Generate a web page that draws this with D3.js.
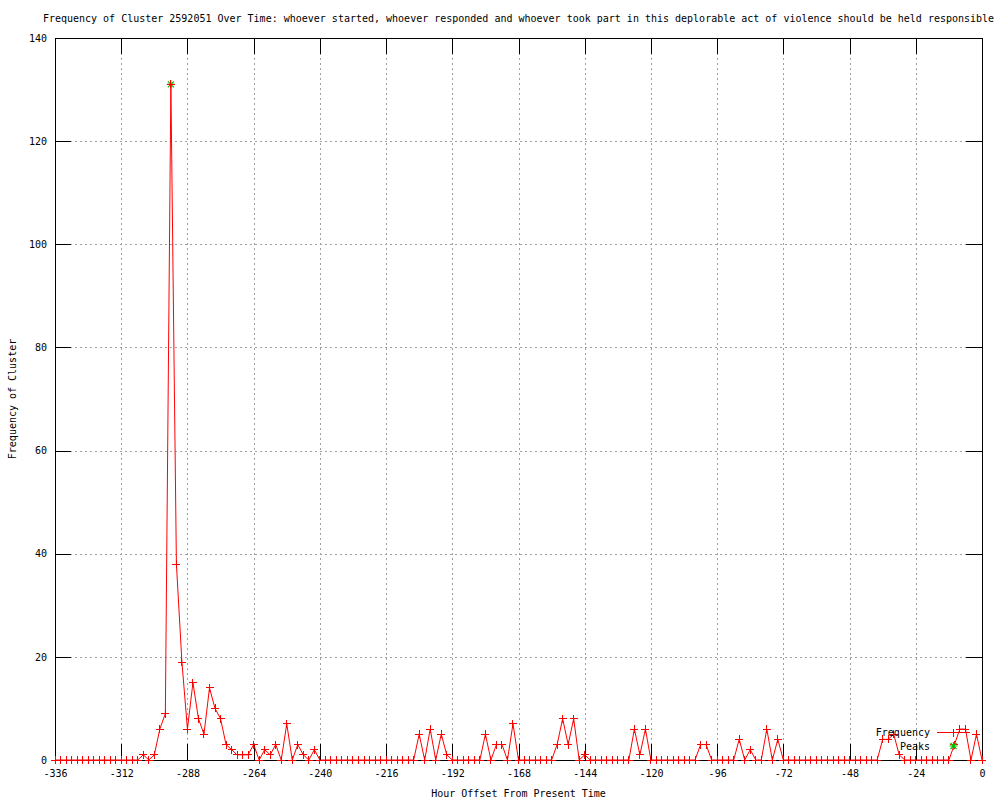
<!DOCTYPE html>
<html>
<head>
<meta charset="utf-8">
<script src="https://cdn.jsdelivr.net/npm/d3@7"></script>
<style>
  body { margin: 0; background: #fff; }
  text { font-family: "DejaVu Sans Mono", monospace; font-size: 10px; fill: #000; }
</style>
</head>
<body>
<div class="svg-container"></div>
<script>
// chart texts
const title = "Frequency of Cluster 2592051 Over Time: whoever started, whoever responded and whoever took part in this deplorable act of violence should be held responsible";
const xLabel = "Hour Offset From Present Time";
const yLabel = "Frequency of Cluster";

// hour offsets, one sample every 2 hours from -336 to 0
const hours = d3.range(-336, 1, 2);

// frequency per sample
const frequency = [
  0, 0, 0, 0, 0, 0, 0, 0, 0, 0, 0, 0, 0, 0, 0, 0,
  1, 0, 1, 6, 9, 131, 38, 19, 6, 15, 8, 5, 14, 10, 8, 3, 2, 1, 1, 1, 3, 0, 2, 1, 3, 0, 7, 0, 3, 1, 0, 2, 0,
  0, 0, 0, 0, 0, 0, 0, 0, 0, 0, 0, 0, 0, 0, 0, 0, 0,
  5, 0, 6, 0, 5, 1, 0,
  0, 0, 0, 0, 0,
  5, 0, 3, 3, 0, 7,
  0, 0, 0, 0, 0, 0, 0,
  3, 8, 3, 8, 0, 1, 0,
  0, 0, 0, 0, 0, 0, 0,
  6, 1, 6, 0,
  0, 0, 0, 0, 0, 0, 0, 0,
  3, 3, 0,
  0, 0, 0, 0,
  4, 0, 2, 0, 0, 6, 0, 4, 0,
  0, 0, 0, 0, 0, 0, 0, 0, 0, 0, 0, 0, 0, 0, 0, 0, 0,
  4, 4, 5, 1, 0,
  0, 0, 0, 0, 0, 0, 0, 0,
  3, 6, 6, 0, 5, 0
];

// detected peaks
const peakHours = [-294];
const peakValues = [131];

// tick values
const xTicks = [-336, -312, -288, -264, -240, -216, -192, -168, -144, -120, -96, -72, -48, -24, 0];
const yTicks = [0, 20, 40, 60, 80, 100, 120, 140];

const legendNames = ["Frequency", "Peaks"];

// establish margins
const margin = { top: 38, right: 18, bottom: 40, left: 55 };
const totalW = 1000;
const totalH = 800;
const width = totalW - margin.left - margin.right;
const height = totalH - margin.top - margin.bottom;

const data = hours.map((h, i) => ({ hour: h, value: frequency[i] }));
const peaks = peakHours.map((h, i) => ({ hour: h, value: peakValues[i] }));

const svg = d3
  .select(".svg-container")
  .append("svg")
  .attr("width", totalW)
  .attr("height", totalH);

const g = svg.append("g").attr("transform", `translate(${margin.left},${margin.top})`);

const xScale = d3.scaleLinear().domain([-336, 0]).range([0, width]);
const yScale = d3.scaleLinear().domain([0, 140]).range([height, 0]);

// grid lines
g.append("g")
  .attr("class", "grid")
  .attr("transform", `translate(0,${height})`)
  .call(d3.axisBottom(xScale).tickValues(xTicks).tickSize(-height).tickFormat(""));
g.append("g")
  .attr("class", "grid")
  .call(d3.axisLeft(yScale).tickValues(yTicks).tickSize(-width).tickFormat(""));
g.selectAll(".grid .domain").remove();
g.selectAll(".grid line")
  .attr("stroke", "#a0a0a0")
  .attr("stroke-dasharray", "2,3")
  .attr("shape-rendering", "crispEdges");

// axes with inward ticks on all four sides
const fmt = (d) => String(d);
g.append("g")
  .attr("class", "axis")
  .attr("transform", `translate(0,${height})`)
  .call(d3.axisBottom(xScale).tickValues(xTicks).tickSize(-16).tickPadding(10).tickFormat(fmt));
g.append("g")
  .attr("class", "axis")
  .call(d3.axisTop(xScale).tickValues(xTicks).tickSize(-16).tickFormat(""));
g.append("g")
  .attr("class", "axis")
  .call(d3.axisLeft(yScale).tickValues(yTicks).tickSize(-16).tickPadding(8).tickFormat(fmt));
g.append("g")
  .attr("class", "axis")
  .attr("transform", `translate(${width},0)`)
  .call(d3.axisRight(yScale).tickValues(yTicks).tickSize(-16).tickFormat(""));
g.selectAll(".axis .domain").remove();
g.selectAll(".axis line").attr("stroke", "#000").attr("shape-rendering", "crispEdges");
g.selectAll(".axis text")
  .attr("font-family", "DejaVu Sans Mono, monospace")
  .attr("font-size", 10)
  .attr("fill", "#000");

// border
g.append("rect")
  .attr("x", 0)
  .attr("y", 0)
  .attr("width", width)
  .attr("height", height)
  .attr("fill", "none")
  .attr("stroke", "#000")
  .attr("shape-rendering", "crispEdges");

// title and axis labels
svg.append("text")
  .attr("x", margin.left + width / 2)
  .attr("y", 22)
  .attr("text-anchor", "middle")
  .text(title);

svg.append("text")
  .attr("x", margin.left + width / 2)
  .attr("y", 797)
  .attr("text-anchor", "middle")
  .text(xLabel);

svg.append("text")
  .attr("transform", `translate(16,${margin.top + height / 2}) rotate(-90)`)
  .attr("text-anchor", "middle")
  .text(yLabel);

// marker shapes
const plus = "M-4,0H4M0,-4V4";
const star = "M-4,0H4M0,-4V4M-3,-3L3,3M-3,3L3,-3";

// peaks (drawn under the frequency line)
g.selectAll(".peak")
  .data(peaks)
  .enter()
  .append("path")
  .attr("class", "peak")
  .attr("d", star)
  .attr("transform", (d) => `translate(${xScale(d.hour)},${yScale(d.value)})`)
  .attr("stroke", "#00c000")
  .attr("stroke-width", 1.2)
  .attr("fill", "none");

// frequency line
const line = d3
  .line()
  .x((d) => xScale(d.hour))
  .y((d) => yScale(d.value));

g.append("path")
  .datum(data)
  .attr("fill", "none")
  .attr("stroke", "#ff0000")
  .attr("stroke-width", 1)
  .attr("d", line);

g.selectAll(".pt")
  .data(data)
  .enter()
  .append("path")
  .attr("class", "pt")
  .attr("d", plus)
  .attr("transform", (d) => `translate(${xScale(d.hour)},${yScale(d.value)})`)
  .attr("stroke", "#ff0000")
  .attr("fill", "none")
  .attr("shape-rendering", "crispEdges");

// legend
const legend = svg.append("g");
legend.append("text")
  .attr("x", 930)
  .attr("y", 732)
  .attr("dy", "0.35em")
  .attr("text-anchor", "end")
  .text(legendNames[0]);
legend.append("line")
  .attr("x1", 937)
  .attr("x2", 970)
  .attr("y1", 732.5)
  .attr("y2", 732.5)
  .attr("stroke", "#ff0000");
legend.append("path")
  .attr("d", plus)
  .attr("transform", "translate(953.5,732.5)")
  .attr("stroke", "#ff0000")
  .attr("shape-rendering", "crispEdges");
legend.append("text")
  .attr("x", 930)
  .attr("y", 746)
  .attr("dy", "0.35em")
  .attr("text-anchor", "end")
  .text(legendNames[1]);
legend.append("path")
  .attr("d", star)
  .attr("transform", "translate(953.5,746)")
  .attr("stroke", "#00c000")
  .attr("stroke-width", 1.2)
  .attr("fill", "none");
</script>
</body>
</html>
